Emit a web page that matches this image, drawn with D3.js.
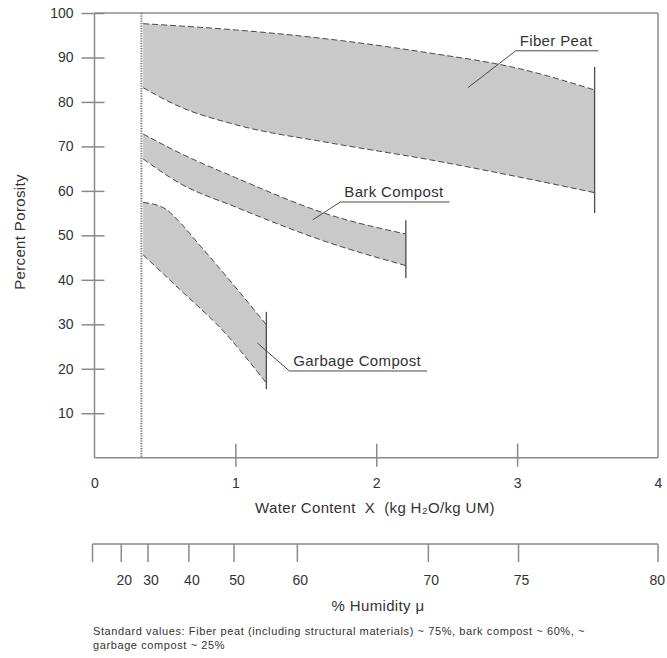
<!DOCTYPE html>
<html>
<head>
<meta charset="utf-8">
<script src="https://cdn.jsdelivr.net/npm/d3@7"></script>
<style>
  html, body { margin: 0; padding: 0; background: #fff; }
  svg { display: block; font-family: "Liberation Sans", Arial, sans-serif; }
</style>
</head>
<body>
<svg id="chart" width="667" height="658"></svg>
<script>
// ---------- data ----------
const porosityTicks = [10, 20, 30, 40, 50, 60, 70, 80, 90, 100];
const waterTicks = [0, 1, 2, 3, 4];
const referenceWater = 0.333; // dotted vertical line

const fiberX     = [0.345, 0.6, 1.0, 1.67, 2.38, 3.0, 3.55];
const fiberUpper = [97.6, 97.1, 96.2, 94.1, 91.0, 87.6, 82.7];
const fiberLower = [83.2, 79.0, 74.9, 70.8, 67.0, 63.2, 59.6];
const fiberCap   = [55, 87.9];

const barkX     = [0.345, 0.6, 1.0, 1.67, 2.21];
const barkUpper = [72.8, 68.6, 63.0, 54.6, 50.3];
const barkLower = [67.2, 61.8, 56.4, 48.3, 43.2];
const barkCap   = [40.4, 53.4];

const garbageX     = [0.345, 0.49, 0.61, 0.73, 0.85, 1.22];
const garbageUpper = [57.4, 56.2, 52.8, 48.4, 44.0, 29.9];
const garbageLower = [45.6, 41.3, 37.7, 34.2, 30.6, 16.8];
const garbageCap   = [15.4, 32.8];

const seriesNames = ["Fiber Peat", "Bark Compost", "Garbage Compost"];
// label leader anchor (data units) and underline start (data units)
const labelAnchorX = [2.65, 1.55, 1.156];
const labelAnchorY = [83.2, 53.5, 25.8];
const labelStartX  = [2.99, 1.745, 1.383];
const labelStartY  = [91.5, 57.5, 19.5];

const humidityLabels = ["", "20", "30", "40", "50", "60", "70", "75", "80"];
const humidityAsWater = [0, 0.19, 0.38, 0.67, 0.99, 1.44, 2.37, 3.01, 4.0];

const xTitle = "Water Content\u00a0\u00a0X\u00a0\u00a0(kg H\u2082O/kg UM)";
const yTitle = "Percent Porosity";
const humidityTitle = "% Humidity \u03bc";
const footnote = [
  "Standard values: Fiber peat (including structural materials) ~ 75%, bark compost ~ 60%, ~",
  "garbage compost ~ 25%"
];

// ---------- drawing ----------
const svg = d3.select("#chart");
const x = d3.scaleLinear().domain([0, 4]).range([94.5, 658]);
const y = d3.scaleLinear().domain([0, 100]).range([457.7, 13]);

const axisColor = "#8a8a8a";
const textColor = "#333";
const lineColor = "#4a4a4a";
const labelFont = "15px";
const labelSpacing = "0.35px";

// frame (top and right)
svg.append("line").attr("x1", x(0)).attr("x2", x(4)).attr("y1", y(100)).attr("y2", y(100))
  .attr("stroke", "#aaa").attr("stroke-width", 2);
svg.append("line").attr("x1", x(4)).attr("x2", x(4)).attr("y1", y(100)).attr("y2", y(0))
  .attr("stroke", axisColor).attr("stroke-width", 1.5);

// bands
const bands = [
  { xs: fiberX, up: fiberUpper, lo: fiberLower, cap: fiberCap },
  { xs: barkX, up: barkUpper, lo: barkLower, cap: barkCap },
  { xs: garbageX, up: garbageUpper, lo: garbageLower, cap: garbageCap }
];

bands.forEach(b => {
  const pts = b.xs.map((v, i) => ({ x: v, u: b.up[i], l: b.lo[i] }));
  const area = d3.area().x(d => x(d.x)).y0(d => y(d.l)).y1(d => y(d.u)).curve(d3.curveMonotoneX);
  svg.append("path").datum(pts).attr("d", area).attr("fill", "#c9c9c9").attr("stroke", "none");
  const lineU = d3.line().x(d => x(d.x)).y(d => y(d.u)).curve(d3.curveMonotoneX);
  const lineL = d3.line().x(d => x(d.x)).y(d => y(d.l)).curve(d3.curveMonotoneX);
  [lineU, lineL].forEach(g => {
    svg.append("path").datum(pts).attr("d", g).attr("fill", "none")
      .attr("stroke", lineColor).attr("stroke-width", 1).attr("stroke-dasharray", "6,3");
  });
  const xr = b.xs[b.xs.length - 1];
  svg.append("line").attr("x1", x(xr)).attr("x2", x(xr))
    .attr("y1", y(b.cap[0])).attr("y2", y(b.cap[1]))
    .attr("stroke", lineColor).attr("stroke-width", 1.3);
});

// dotted reference line
svg.append("line").attr("x1", x(referenceWater)).attr("x2", x(referenceWater))
  .attr("y1", y(100)).attr("y2", y(0))
  .attr("stroke", "#777").attr("stroke-width", 2).attr("stroke-dasharray", "1.2,1.3");

// left axis
svg.append("line").attr("x1", x(0)).attr("x2", x(0)).attr("y1", y(100)).attr("y2", y(0))
  .attr("stroke", axisColor).attr("stroke-width", 1.5);
const yAxis = d3.axisLeft(y).tickValues(porosityTicks).tickSizeInner(13).tickSizeOuter(0).tickPadding(6);
const gy = svg.append("g").attr("transform", `translate(${x(0)},0)`).call(yAxis);
gy.select(".domain").remove();
gy.selectAll(".tick line").attr("x2", 10).attr("x1", -13).attr("stroke", axisColor).attr("stroke-width", 1.5);
gy.selectAll(".tick text").attr("x", -21).attr("fill", textColor)
  .style("font-size", "14px").style("font-family", "Liberation Sans, Arial, sans-serif");

// bottom axis
svg.append("line").attr("x1", x(0)).attr("x2", x(4)).attr("y1", y(0)).attr("y2", y(0))
  .attr("stroke", axisColor).attr("stroke-width", 1.5);
const xAxis = d3.axisBottom(x).tickValues(waterTicks).tickFormat(d3.format("d")).tickSizeOuter(0);
const gx = svg.append("g").attr("transform", `translate(0,${y(0)})`).call(xAxis);
gx.select(".domain").remove();
gx.selectAll(".tick line")
  .attr("y1", d => (d === 0 || d === 4) ? 0 : -14)
  .attr("y2", d => (d === 0 || d === 4) ? 0 : 9)
  .attr("stroke", axisColor).attr("stroke-width", 1.5);
gx.selectAll(".tick text").attr("y", 20).attr("fill", textColor)
  .style("font-size", "14px").style("font-family", "Liberation Sans, Arial, sans-serif");

// axis titles
svg.append("text").attr("x", 375).attr("y", 513).attr("text-anchor", "middle")
  .attr("fill", textColor).style("font-size", labelFont).style("letter-spacing", labelSpacing).text(xTitle);
svg.append("text").attr("transform", `translate(25,232) rotate(-90)`).attr("text-anchor", "middle")
  .attr("fill", textColor).style("font-size", labelFont).style("letter-spacing", labelSpacing).text(yTitle);

// humidity axis
const hy = 544;
svg.append("line").attr("x1", x(humidityAsWater[0]) - 2).attr("x2", x(4)).attr("y1", hy).attr("y2", hy)
  .attr("stroke", axisColor).attr("stroke-width", 1.5);
const hg = svg.append("g");
humidityAsWater.forEach((w, i) => {
  const px = x(w) - (i === 0 ? 2 : 0);
  hg.append("line").attr("x1", px).attr("x2", px).attr("y1", hy).attr("y2", hy + 18)
    .attr("stroke", axisColor).attr("stroke-width", 1.5);
  if (humidityLabels[i]) {
    const last = i === humidityAsWater.length - 1;
    hg.append("text").attr("x", last ? 665 : px + 3).attr("y", hy + 41)
      .attr("text-anchor", last ? "end" : "middle")
      .attr("fill", textColor).style("font-size", "14px").text(humidityLabels[i]);
  }
});
svg.append("text").attr("x", 378).attr("y", 611).attr("text-anchor", "middle")
  .attr("fill", textColor).style("font-size", labelFont).style("letter-spacing", labelSpacing).text(humidityTitle);

// footnote
footnote.forEach((t, i) => {
  svg.append("text").attr("x", 93).attr("y", 635 + i * 14)
    .attr("fill", textColor).style("font-size", "11px").style("letter-spacing", "0.6px").text(t);
});

// series labels with leader lines
seriesNames.forEach((name, i) => {
  const sx = x(labelStartX[i]), sy = y(labelStartY[i]);
  const t = svg.append("text").attr("x", sx + 4).attr("y", sy - 5)
    .attr("fill", textColor).style("font-size", labelFont).style("letter-spacing", labelSpacing).text(name);
  const w = t.node().getComputedTextLength();
  svg.append("line").attr("x1", sx).attr("x2", sx + w + 10).attr("y1", sy).attr("y2", sy)
    .attr("stroke", lineColor).attr("stroke-width", 1);
  svg.append("line").attr("x1", sx).attr("y1", sy)
    .attr("x2", x(labelAnchorX[i])).attr("y2", y(labelAnchorY[i]))
    .attr("stroke", lineColor).attr("stroke-width", 1);
});
</script>
</body>
</html>
